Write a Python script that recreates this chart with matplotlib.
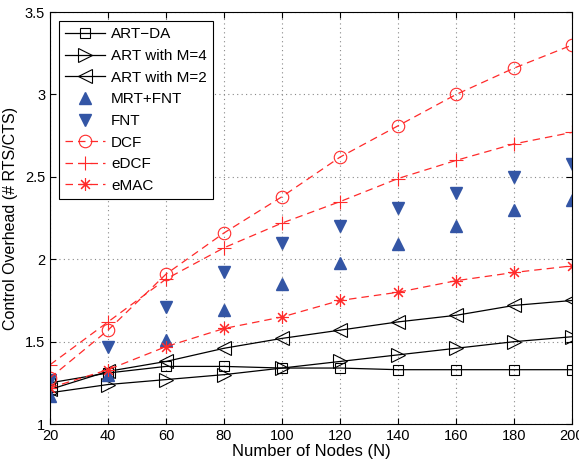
import matplotlib
matplotlib.use('Agg')
import matplotlib.pyplot as plt
import numpy as np

plt.rcParams['font.family'] = ['Liberation Sans', 'DejaVu Sans']

nodes = [20, 40, 60, 80, 100, 120, 140, 160, 180, 200]
art_da = [1.25, 1.31, 1.35, 1.35, 1.34, 1.34, 1.33, 1.33, 1.33, 1.33]
art_m4 = [1.19, 1.24, 1.27, 1.30, 1.34, 1.38, 1.42, 1.46, 1.50, 1.53]
art_m2 = [1.21, 1.32, 1.38, 1.46, 1.52, 1.57, 1.62, 1.66, 1.72, 1.75]
mrt_fnt = [1.17, 1.30, 1.51, 1.69, 1.85, 1.98, 2.09, 2.20, 2.30, 2.36]
fnt = [1.27, 1.47, 1.71, 1.92, 2.10, 2.20, 2.31, 2.40, 2.50, 2.58]
dcf = [1.28, 1.57, 1.91, 2.16, 2.38, 2.62, 2.81, 3.00, 3.16, 3.30]
edcf = [1.36, 1.62, 1.88, 2.07, 2.22, 2.35, 2.49, 2.60, 2.70, 2.77]
emac = [1.22, 1.33, 1.47, 1.58, 1.65, 1.75, 1.80, 1.87, 1.92, 1.96]

blue = '#3355a5'
red = '#ff2a2a'

fig = plt.figure(figsize=(5.79, 4.65), dpi=100)
ax = fig.add_axes([0.0864, 0.088, 0.9016, 0.886])

ax.plot(nodes, art_da, '-', color='k', lw=0.9, marker='s', ms=7, mfc='none', mec='k', mew=0.8, label='ART\u2212DA')
ax.plot(nodes, art_m4, '-', color='k', lw=0.9, marker='>', ms=10, mfc='none', mec='k', mew=0.8, label='ART with M=4')
ax.plot(nodes, art_m2, '-', color='k', lw=0.9, marker='<', ms=10, mfc='none', mec='k', mew=0.8, label='ART with M=2')
ax.plot(nodes, mrt_fnt, linestyle='none', marker='^', ms=9, color=blue, label='MRT+FNT')
ax.plot(nodes, fnt, linestyle='none', marker='v', ms=9, color=blue, label='FNT')
ax.plot(nodes, dcf, '--', color=red, lw=0.9, dashes=(6, 4), marker='o', ms=9, mfc='none', mec=red, mew=0.8, label='DCF')
ax.plot(nodes, edcf, '--', color=red, lw=0.9, dashes=(6, 4), marker='+', ms=10, mec=red, mew=0.8, label='eDCF')
ax.plot(nodes, emac, '--', color=red, lw=0.9, dashes=(6, 4), marker=(8, 2, 0), ms=9, mec=red, mew=0.8, label='eMAC')

ax.set_xlim(20, 200)
ax.set_ylim(1, 3.5)
ax.set_xticks(nodes)
ax.set_yticks([1, 1.5, 2, 2.5, 3, 3.5])
ax.set_yticklabels(['1', '1.5', '2', '2.5', '3', '3.5'])
ax.tick_params(direction='in', labelsize=10.5, top=True, right=True, length=4)
ax.grid(True, linestyle=(0, (1, 3)), color='#888888', lw=0.8)
ax.set_xlabel('Number of Nodes (N)', fontsize=12, labelpad=1)
ax.set_ylabel('Control Overhead (# RTS/CTS)', fontsize=11.5, labelpad=5)

leg = ax.legend(loc='upper left', fontsize=11, fancybox=False, edgecolor='k',
                framealpha=1, borderaxespad=0.6, handlelength=2.6, handletextpad=0.4,
                labelspacing=0.5)
leg.get_frame().set_linewidth(0.8)

fig.savefig('out.png', dpi=100)
